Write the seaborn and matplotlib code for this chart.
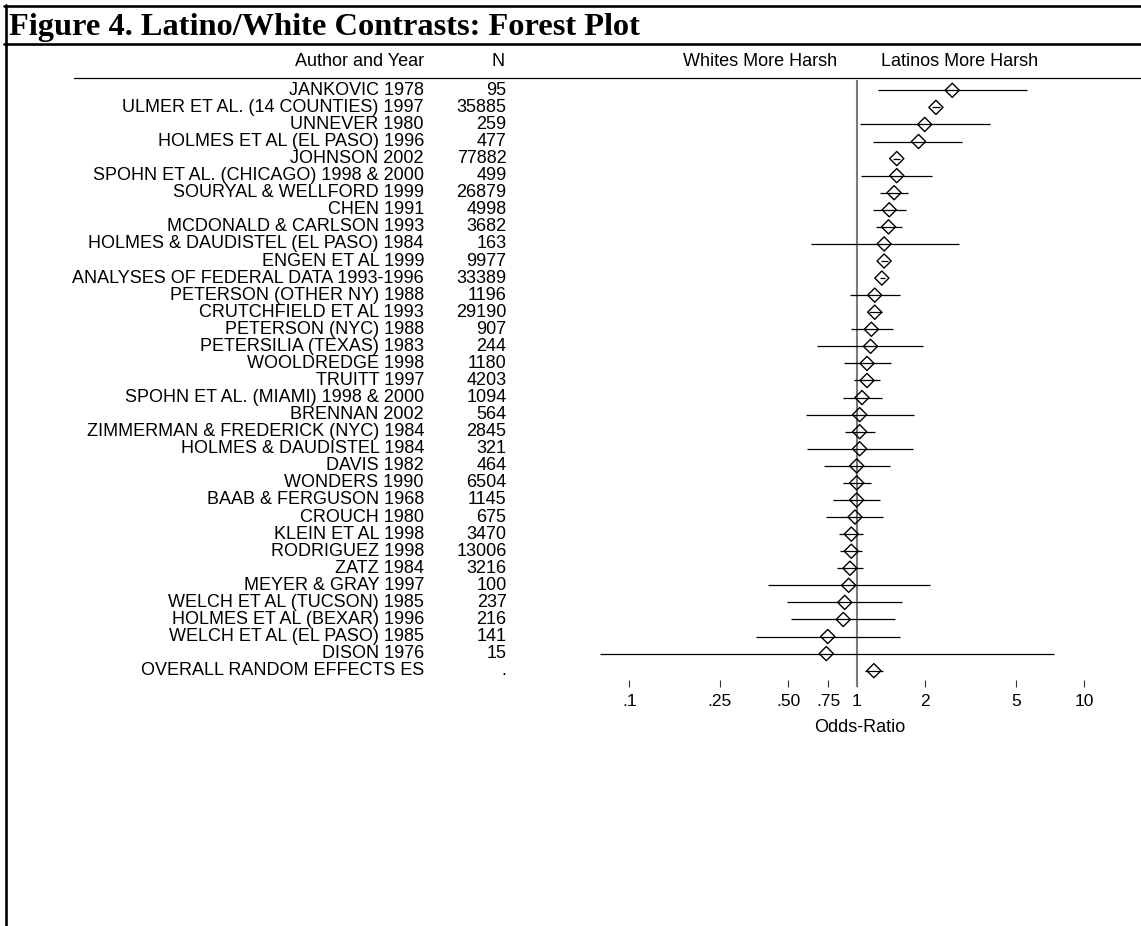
import matplotlib
matplotlib.use("Agg")
import matplotlib.pyplot as plt
from matplotlib.lines import Line2D
from matplotlib import transforms
from matplotlib.ticker import NullLocator, FixedLocator, FixedFormatter
import seaborn as sns
import pandas as pd

studies = [
    "JANKOVIC 1978", "ULMER ET AL. (14 COUNTIES) 1997", "UNNEVER 1980",
    "HOLMES ET AL (EL PASO) 1996", "JOHNSON 2002", "SPOHN ET AL. (CHICAGO) 1998 & 2000",
    "SOURYAL & WELLFORD 1999", "CHEN 1991", "MCDONALD & CARLSON 1993",
    "HOLMES & DAUDISTEL (EL PASO) 1984", "ENGEN ET AL 1999",
    "ANALYSES OF FEDERAL DATA 1993-1996", "PETERSON (OTHER NY) 1988",
    "CRUTCHFIELD ET AL 1993", "PETERSON (NYC) 1988", "PETERSILIA (TEXAS) 1983",
    "WOOLDREDGE 1998", "TRUITT 1997", "SPOHN ET AL. (MIAMI) 1998 & 2000",
    "BRENNAN 2002", "ZIMMERMAN & FREDERICK (NYC) 1984", "HOLMES & DAUDISTEL 1984",
    "DAVIS 1982", "WONDERS 1990", "BAAB & FERGUSON 1968", "CROUCH 1980",
    "KLEIN ET AL 1998", "RODRIGUEZ 1998", "ZATZ 1984", "MEYER & GRAY 1997",
    "WELCH ET AL (TUCSON) 1985", "HOLMES ET AL (BEXAR) 1996",
    "WELCH ET AL (EL PASO) 1985", "DISON 1976", "OVERALL RANDOM EFFECTS ES",
]
n_values = [
    "95", "35885", "259", "477", "77882", "499", "26879", "4998", "3682", "163",
    "9977", "33389", "1196", "29190", "907", "244", "1180", "4203", "1094", "564",
    "2845", "321", "464", "6504", "1145", "675", "3470", "13006", "3216", "100",
    "237", "216", "141", "15", ".",
]
odds_ratio = [
    2.63, 2.23, 1.99, 1.87, 1.50, 1.50, 1.46, 1.39, 1.38, 1.32, 1.32, 1.29,
    1.20, 1.20, 1.16, 1.15, 1.11, 1.11, 1.055, 1.03, 1.03, 1.03, 1.00, 1.00,
    1.00, 0.983, 0.947, 0.947, 0.934, 0.922, 0.886, 0.873, 0.746, 0.735, 1.19,
]
ci_low = [
    1.24, 2.14, 1.03, 1.18, 1.45, 1.04, 1.27, 1.18, 1.21, 0.63, 1.28, 1.26,
    0.935, 1.13, 0.94, 0.67, 0.88, 0.976, 0.873, 0.60, 0.89, 0.607, 0.718, 0.873,
    0.789, 0.733, 0.833, 0.847, 0.819, 0.406, 0.494, 0.513, 0.362, 0.0744, 1.09,
]
ci_high = [
    5.59, 2.33, 3.85, 2.91, 1.55, 2.15, 1.68, 1.64, 1.58, 2.81, 1.37, 1.33,
    1.55, 1.29, 1.44, 1.96, 1.42, 1.27, 1.29, 1.78, 1.20, 1.76, 1.40, 1.15,
    1.27, 1.30, 1.07, 1.055, 1.07, 2.10, 1.58, 1.48, 1.55, 7.34, 1.31,
]
tick_values = [0.1, 0.25, 0.5, 0.75, 1, 2, 5, 10]
tick_labels = [".1", ".25", ".50", ".75", "1", "2", "5", "10"]

df = pd.DataFrame({
    "study": studies, "n": n_values, "or": odds_ratio,
    "lo": ci_low, "hi": ci_high, "row": list(range(len(studies))),
})

sns.set_theme(style="white")
plt.rcParams["font.family"] = ["Liberation Sans", "DejaVu Sans"]
plt.rcParams["text.color"] = "black"
plt.rcParams["xtick.color"] = "black"
plt.rcParams["xtick.labelcolor"] = "black"

W, H = 1141, 926
fig = plt.figure(figsize=(W / 100, H / 100), dpi=100)


def fx(px):
    return px / W


def fy(py):
    return 1 - py / H


# axes occupies pixel box x 590..1100, y 80..687
ax = fig.add_axes([fx(590), fy(687), fx(1100) - fx(590), fy(80) - fy(687)])
ax.set_xscale("log")

ax.hlines(df["row"], df["lo"], df["hi"], color="black", linewidth=0.9, clip_on=False, zorder=2)
sns.scatterplot(data=df, x="or", y="row", ax=ax, marker="D", s=52,
                facecolor="none", edgecolor="black", linewidth=1.0, zorder=3, clip_on=False)
ax.axvline(1, color="#7a7a7a", linewidth=1.5, zorder=1)

row_px0, row_step = 90.3, 17.07
ax.set_ylim((687 - row_px0) / row_step, (80 - row_px0) / row_step)
ax.set_xlim(10 ** ((590 - 856.7) / 227.5), 10 ** ((1100 - 856.7) / 227.5))

for s in ax.spines.values():
    s.set_visible(False)
ax.xaxis.set_major_locator(FixedLocator(tick_values))
ax.xaxis.set_major_formatter(FixedFormatter(tick_labels))
ax.xaxis.set_minor_locator(NullLocator())
ax.set_yticks([])
ax.tick_params(axis="x", direction="in", length=5, width=0.8, color="#333333",
               pad=5, labelsize=12.5, labelcolor="black", bottom=True)
ax.set_xlabel("")
ax.set_ylabel("")

LBL = 13
trans = transforms.blended_transform_factory(fig.transFigure, ax.transData)
for _, r in df.iterrows():
    fig.text(fx(424), r["row"], r["study"], transform=trans, ha="right", va="center",
             fontsize=LBL, color="black")
    fig.text(fx(506.5), r["row"], r["n"], transform=trans, ha="right", va="center",
             fontsize=LBL, color="black")

hdr_y = fy(62)
fig.text(fx(424), hdr_y, "Author and Year", ha="right", va="center", fontsize=LBL, color="black")
fig.text(fx(498), hdr_y, "N", ha="center", va="center", fontsize=LBL, color="black")
fig.text(fx(760), hdr_y, "Whites More Harsh", ha="center", va="center", fontsize=LBL, color="black")
fig.text(fx(960), hdr_y, "Latinos More Harsh", ha="center", va="center", fontsize=LBL, color="black")
fig.text(fx(859.5), fy(727), "Odds-Ratio", ha="center", va="center", fontsize=LBL, color="black")

fig.text(fx(8.6), fy(35), "Figure 4. Latino/White Contrasts: Forest Plot",
         ha="left", va="baseline", fontsize=23.3, fontweight="bold", color="black",
         family=["Liberation Serif", "DejaVu Serif"])


def hline(x0, x1, y, lw):
    fig.add_artist(Line2D([fx(x0), fx(x1)], [fy(y), fy(y)], color="black", linewidth=lw,
                          transform=fig.transFigure))


hline(4, W, 6, 1.9)
hline(4, W, 44, 1.9)
hline(74, W, 77.5, 0.9)
fig.add_artist(Line2D([fx(5.5), fx(5.5)], [fy(5), fy(H)], color="black", linewidth=1.9,
                      transform=fig.transFigure))

fig.savefig("out.png", dpi=100, facecolor="white")
